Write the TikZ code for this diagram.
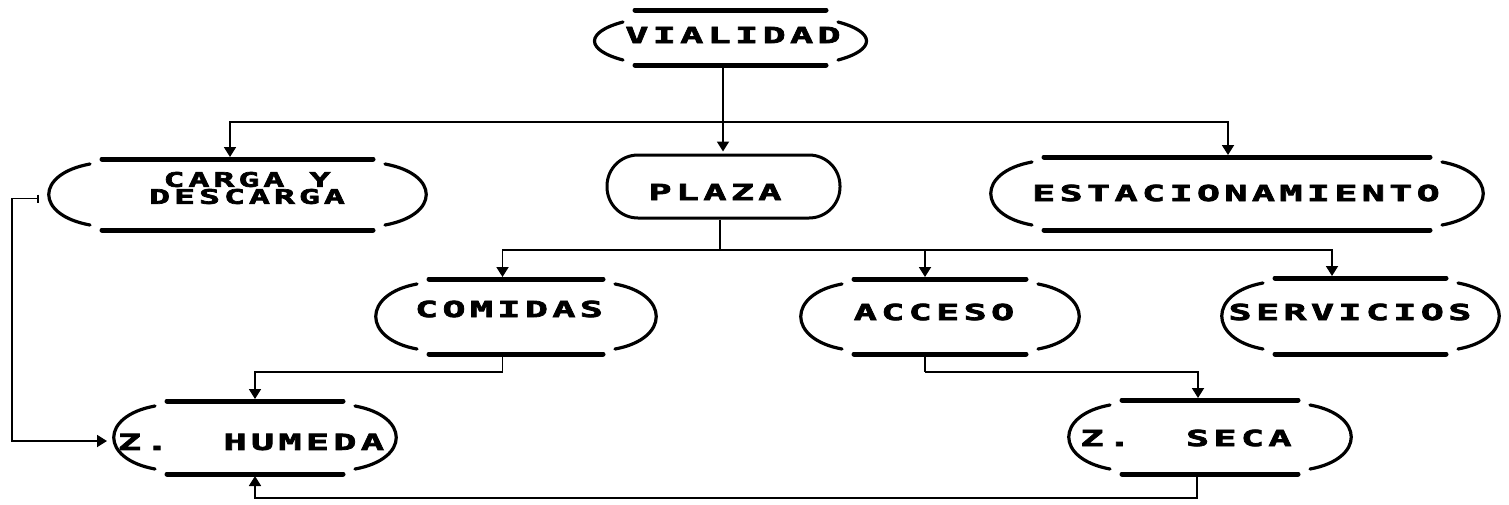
\documentclass[tikz,border=0pt]{standalone}
\usepackage{fontspec}
\newfontfamily\dotfont{DejaVu Sans Mono}[UprightFont=* Bold,BoldFont=* Bold,FakeStretch=1.75,LetterSpace=19.5,FakeBold=3.5]
\usetikzlibrary{arrows.meta,calc}
\newcommand{\brk}[3]{%
 \draw[bar] (#1.north west) -- (#1.north east);
 \draw[bar] (#1.south west) -- (#1.south east);
 \draw[paren] ([shift={(-12,#3)}]#1.north west) .. controls +(-#2,10) and +(-#2,-10) .. ([shift={(-12,-5)}]#1.south west);
 \draw[paren] ([shift={(12,#3)}]#1.north east) .. controls +(#2,10) and +(#2,-10) .. ([shift={(12,-5)}]#1.south east);
}
\begin{document}
\begin{tikzpicture}[x=1pt,y=-1pt,
  frame/.style={rectangle,draw=none,inner sep=0pt,outer sep=0pt},
  bar/.style={line width=5pt,line cap=round},
  paren/.style={line width=3.2pt,line cap=round},
  conn/.style={line width=1.8pt},
  arr/.style={conn,-{Triangle[width=12pt,length=10pt]},shorten >=2pt},
  lbl/.style={font=\dotfont\fontsize{22}{17}\selectfont,inner sep=0pt,align=center},
  stad/.style={draw,line width=3pt,rounded corners=31pt,inner sep=0pt,minimum width=233pt,minimum height=63pt}]
\fill[white] (0,0) rectangle (1509,504);
\useasboundingbox (0,0) rectangle (1509,504);

% frames
\node[frame,minimum width=191pt,minimum height=55pt] (vial) at (730.5,37.5) {};
\node[frame,minimum width=271pt,minimum height=71pt] (carga) at (237.5,194.5) {};
\node[stad] (plaza) at (723.5,186.5) {};
\node[frame,minimum width=386pt,minimum height=73pt] (estac) at (1237,193.5) {};
\node[frame,minimum width=174pt,minimum height=75pt] (comidas) at (516,316.5) {};
\node[frame,minimum width=172pt,minimum height=75pt] (acceso) at (940,316.5) {};
\node[frame,minimum width=171pt,minimum height=76pt] (serv) at (1360.5,316) {};
\node[frame,minimum width=176pt,minimum height=73pt] (humeda) at (255,437.5) {};
\node[frame,minimum width=176pt,minimum height=74pt] (seca) at (1210,437) {};

\brk{vial}{38}{12}
\brk{carga}{55}{5}
\brk{estac}{55}{5}
\brk{comidas}{55}{5}
\brk{acceso}{55}{5}
\brk{serv}{55}{5}
\brk{humeda}{55}{5}
\brk{seca}{55}{5}

% labels
\node[lbl] (tvial) at (733,35) {VIALIDAD};
\node[lbl,font=\dotfont\fontsize{20}{17}\selectfont] (tcarga) at (247,188) {CARGA Y\\DESCARGA};
\node[lbl] (tplaza) at (715,192) {PLAZA};
\node[lbl] (testac) at (1236,193) {ESTACIONAMIENTO};
\node[lbl] (tcomidas) at (509,309) {COMIDAS};
\node[lbl] (tacceso) at (934,312) {ACCESO};
\node[lbl] (tserv) at (1350,312) {SERVICIOS};
\node[lbl] (thumeda) at (251,442) {Z.\ \ HUMEDA};
\node[lbl] (tseca) at (1186,438) {Z.\ \ SECA};

% connectors
\coordinate (bus1) at (723,122);
\coordinate (bus2) at (720,250);
\draw[conn] (vial.south -| bus1) -- (bus1);
\draw[arr] (bus1) -| ([xshift=-7.5pt]carga.north);
\draw[arr] (bus1) -| ([xshift=-9pt]estac.north);
\draw[arr] (bus1) -- (plaza.north -| bus1);

\draw[conn] (plaza.south -| bus2) -- (bus2);
\draw[arr] (bus2) -| ([xshift=-13.5pt]comidas.north);
\draw[arr] (bus2) -| ([xshift=-28.5pt]serv.north);
\draw[arr] ([xshift=-15pt]acceso.north |- bus2) -- ([xshift=-15pt]acceso.north);

\coordinate (bus3) at (700,372);
\draw[conn] ([xshift=-13.5pt]comidas.south) -- ([xshift=-13.5pt]comidas.south |- bus3);
\draw[conn] ([xshift=-15pt]acceso.south) -- ([xshift=-15pt]acceso.south |- bus3);
\draw[arr] ([xshift=-13.5pt]comidas.south |- bus3) -| (humeda.north);
\draw[arr] ([xshift=-15pt]acceso.south |- bus3) -| ([xshift=-12pt]seca.north);

\draw[arr] ([xshift=-13pt]seca.south) -- ++(0,24) -| (humeda.south);
\draw[conn,{Bar[width=8pt]}-{Triangle[width=12pt,length=10pt]}] ([shift={(-63,4)}]carga.west) -- ++(-27,0) |- ([shift={(-60,3.5)}]humeda.west);
\end{tikzpicture}
\end{document}
